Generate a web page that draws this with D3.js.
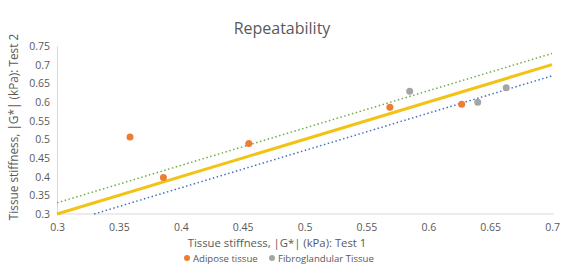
<!DOCTYPE html>
<html>
<head>
<meta charset="utf-8">
<script src="https://cdn.jsdelivr.net/npm/d3@7"></script>
<style>
  body { margin: 0; background: #fff; }
  text { font-family: "Open Sans", "Noto Sans", sans-serif; fill: #595959; }
</style>
</head>
<body>
<div class="chart"></div>
<script>
// data
const adiposeTest1 = [0.359, 0.386, 0.455, 0.569, 0.627];
const adiposeTest2 = [0.506, 0.398, 0.489, 0.586, 0.594];
const fibroTest1 = [0.585, 0.640, 0.663];
const fibroTest2 = [0.629, 0.599, 0.638];

// identity line and +/- limits
const identityLine = [[0.3, 0.3], [0.7, 0.7]];
const upperLine = [[0.3, 0.33], [0.7, 0.73]];
const lowerLine = [[0.33, 0.3], [0.7, 0.67]];

const xTicks = [0.3, 0.35, 0.4, 0.45, 0.5, 0.55, 0.6, 0.65, 0.7];
const yTicks = [0.3, 0.35, 0.4, 0.45, 0.5, 0.55, 0.6, 0.65, 0.7, 0.75];

const W = 565, H = 270;
const M = { left: 57, right: 13, top: 46, bottom: 56 };

const svg = d3.select(".chart").append("svg").attr("width", W).attr("height", H);

const x = d3.scaleLinear().domain([0.3, 0.7]).range([M.left, W - M.right]);
const y = d3.scaleLinear().domain([0.3, 0.75]).range([H - M.bottom, M.top]);

// title
svg.append("text")
  .attr("x", 282).attr("y", 34)
  .attr("text-anchor", "middle")
  .style("font-size", "16px")
  .text("Repeatability");

// axes
const xAxis = svg.append("g")
  .attr("transform", `translate(0, ${y(0.3)})`)
  .call(d3.axisBottom(x).tickValues(xTicks).tickSize(0).tickPadding(10).tickFormat(d3.format("")));
xAxis.select(".domain").attr("stroke", "#d9d9d9").attr("d", `M${x(0.3)},0H${x(0.7) + 2}`);
xAxis.selectAll("text").style("font-size", "10.5px").attr("fill", "#595959");

const yAxis = svg.append("g")
  .attr("transform", `translate(${x(0.3)}, 0)`)
  .call(d3.axisLeft(y).tickValues(yTicks).tickSize(0).tickPadding(7).tickFormat(d3.format("")));
yAxis.select(".domain").attr("stroke", "#d9d9d9");
yAxis.selectAll("text").style("font-size", "10.5px").attr("fill", "#595959");

// axis titles
svg.append("text")
  .attr("x", 277).attr("y", 247)
  .attr("text-anchor", "middle")
  .style("font-size", "11.3px")
  .text("Tissue stiffness, |G*| (kPa): Test 1");

svg.append("text")
  .attr("transform", `translate(18, ${(y(0.3) + y(0.75)) / 2 - 3}) rotate(-90)`)
  .attr("text-anchor", "middle")
  .style("font-size", "11.8px")
  .text("Tissue stiffness, |G*| (kPa): Test 2");

// lines
const line = d3.line().x(d => x(d[0])).y(d => y(d[1]));

svg.append("path").datum(upperLine).attr("d", line)
  .attr("fill", "none").attr("stroke", "#70ad47").attr("stroke-width", 1.5)
  .attr("stroke-dasharray", "1.5,2.5");

svg.append("path").datum(lowerLine).attr("d", line)
  .attr("fill", "none").attr("stroke", "#4472c4").attr("stroke-width", 1.5)
  .attr("stroke-dasharray", "1.5,2.5");

svg.append("path").datum(identityLine).attr("d", line)
  .attr("fill", "none").attr("stroke", "#f2c314").attr("stroke-width", 3);

// points
svg.append("g").selectAll("circle")
  .data(adiposeTest1.map((d, i) => [d, adiposeTest2[i]]))
  .join("circle")
  .attr("cx", d => x(d[0])).attr("cy", d => y(d[1])).attr("r", 3.5)
  .attr("fill", "#ed7d31");

svg.append("g").selectAll("circle")
  .data(fibroTest1.map((d, i) => [d, fibroTest2[i]]))
  .join("circle")
  .attr("cx", d => x(d[0])).attr("cy", d => y(d[1])).attr("r", 3.5)
  .attr("fill", "#a5a5a5");

// legend
const legend = svg.append("g").attr("transform", "translate(0, 262)");
legend.append("circle").attr("cx", 187).attr("cy", -4).attr("r", 3).attr("fill", "#ed7d31");
legend.append("text").attr("x", 193).attr("y", 0).style("font-size", "9.6px").text("Adipose tissue");
legend.append("circle").attr("cx", 272).attr("cy", -4).attr("r", 3).attr("fill", "#a5a5a5");
legend.append("text").attr("x", 278).attr("y", 0).style("font-size", "9.6px").text("Fibroglandular Tissue");
</script>
</body>
</html>
